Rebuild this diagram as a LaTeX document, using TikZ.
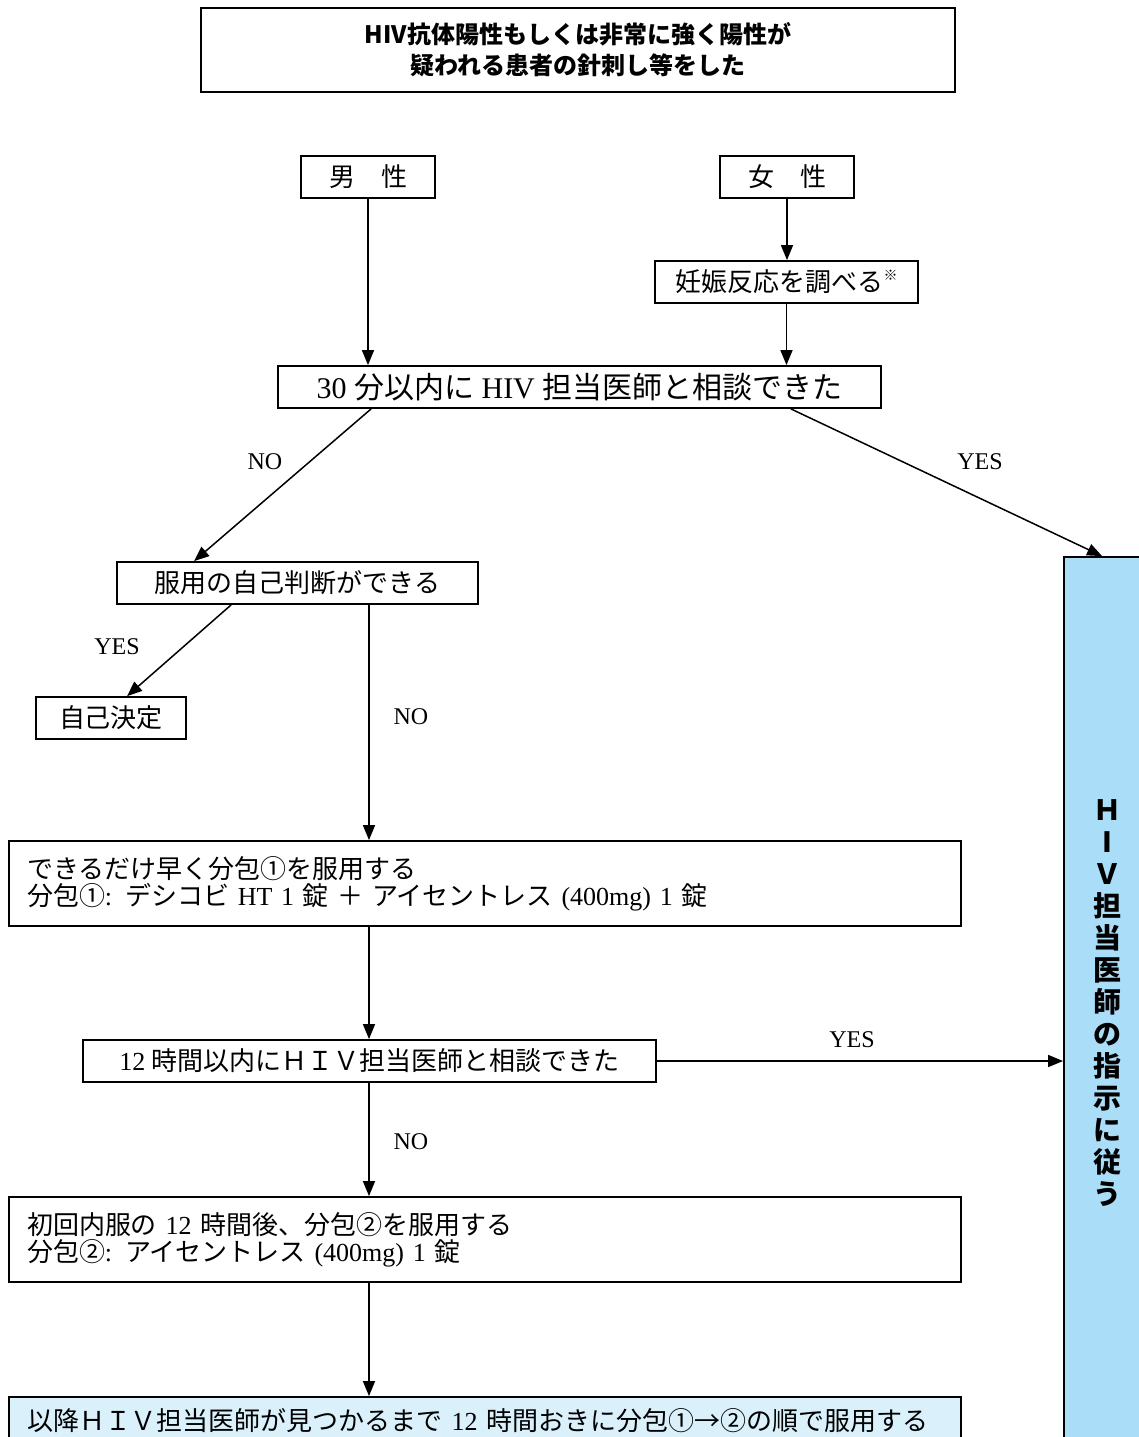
\documentclass[tikz,border=0pt]{standalone}
\usepackage{fontspec}
\setmainfont{Liberation Serif}
\newfontfamily\jp{Noto Sans CJK JP}
\usetikzlibrary{arrows.meta}
\definecolor{hivblue}{HTML}{AADEF8}
\definecolor{paleblue}{HTML}{DAF0FB}

\begin{document}
\begin{tikzpicture}[
        x=0.5pt, y=-0.5pt,
        every node/.style={draw, line width=0.9pt, minimum height=21pt, inner sep=0pt, font=\fontsize{13}{13.5}\selectfont},
        widebox/.style={minimum width=476pt, minimum height=42.5pt, text width=458pt, align=left},
        answer/.style={draw=none, minimum height=0pt, font=\fontsize{12}{12}\selectfont},
        flow/.style={draw, line width=0.75pt, -{Triangle[length=7.5pt, width=6pt]}},
    ]
    \clip (0,0) rectangle (1139,1437);
    \coordinate (axis) at (369,0);

    \node[minimum width=377pt, minimum height=42pt, align=center, font=\jp\bfseries\fontsize{12}{15.5}\selectfont] (top) at (578,50)
        {HIV抗体陽性もしくは非常に強く陽性が\\疑われる患者の針刺し等をした};
    \node[minimum width=67pt] (man) at (368,177) {\jp 男　性};
    \node[minimum width=67pt] (woman) at (787,177) {\jp 女　性};
    \node[minimum width=131.5pt] (preg) at (786.5,282) {\jp 妊娠反応を調べる\raisebox{0.8ex}{\fontsize{7}{7}\selectfont ※}};
    \node[minimum width=301.5pt, font=\fontsize{15}{15}\selectfont] (talk) at (579.5,387)
        {30 {\jp 分以内に} HIV {\jp 担当医師と相談できた}};
    \node[minimum width=180.5pt] (self) at (297.5,583) {\jp 服用の自己判断ができる};
    \node[minimum width=75pt] (own) at (111,718) {\jp 自己決定};
    \node[widebox] (first) at (485,883.5)
        {{\jp できるだけ早く分包①を服用する}\\{\jp 分包①}: {\jp デシコビ} HT 1 {\jp 錠 ＋ アイセントレス} (400mg) 1 {\jp 錠}};
    \node[minimum width=286.5pt] (twelve) at (369.5,1061) {12 {\jp 時間以内にＨＩＶ担当医師と相談できた}};
    \node[widebox] (second) at (485,1239.5)
        {{\jp 初回内服の} 12 {\jp 時間後、分包②を服用する}\\{\jp 分包②}: {\jp アイセントレス} (400mg) 1 {\jp 錠}};
    \node[widebox, fill=paleblue, minimum height=24pt] (later) at (485,1421)
        {\mbox{{\jp 以降ＨＩＶ担当医師が見つかるまで} 12 {\jp 時間おきに分包①→②の順で服用する}}};
    \node[fill=hivblue, minimum width=43pt, minimum height=446.5pt, align=center, font=\jp\bfseries\fontsize{14}{16}\selectfont] (hiv) at (1107,1003.5)
        {Ｈ\\I\\Ｖ\\担\\当\\医\\師\\の\\指\\示\\に\\従\\う};

    % answers
    \node[answer] (no1) at (265,462) {NO};
    \node[answer] (yes1) at (980,462) {YES};
    \node[answer] (yes2) at (117,647) {YES};
    \node[answer] (no2) at (411,717) {NO};
    \node[answer] (yes3) at (852,1040) {YES};
    \node[answer] (no3) at (411,1142) {NO};

    \draw[flow] (man) -- (man |- talk.north);
    \draw[flow] (woman) -- (woman |- preg.north);
    \draw[flow] (preg) -- (preg |- talk.north);
    \draw[flow] ([xshift=47pt]talk.south west) -- ([xshift=39pt]self.north west);
    \draw[flow] ([xshift=-45.5pt]talk.south east) -- ([xshift=19.5pt]hiv.north west);
    \draw[flow] ([xshift=57.5pt]self.south west) -- ([xshift=46pt]own.north west);
    \draw[flow] (axis |- self.south) -- (axis |- first.north);
    \draw[flow] (axis |- first.south) -- (axis |- twelve.north);
    \draw[flow] (twelve) -- (hiv.west |- twelve);
    \draw[flow] (axis |- twelve.south) -- (axis |- second.north);
    \draw[flow] (axis |- second.south) -- (axis |- later.north);
\end{tikzpicture}
\end{document}
